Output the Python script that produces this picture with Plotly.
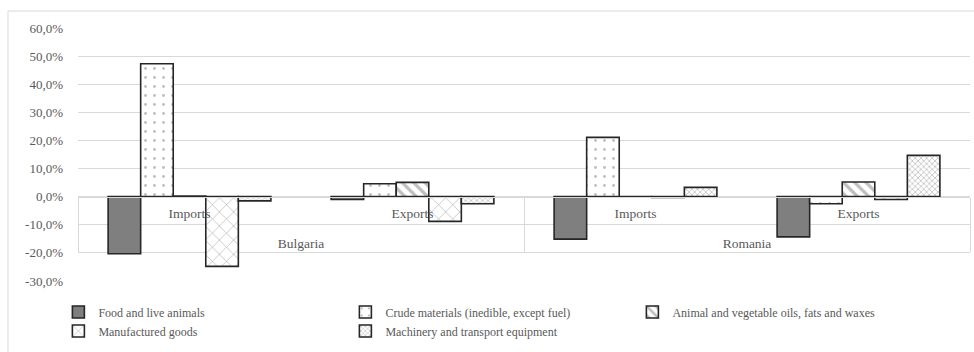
import plotly.graph_objects as go

# Change by commodity group, percent
countries = ["Bulgaria", "Bulgaria", "Romania", "Romania"]
flows = ["Imports", "Exports", "Imports", "Exports"]

food = [-20.3, -1.0, -15.1, -14.3]
crude = [47.3, 4.6, 21.1, -2.5]
oils = [0.2, 5.1, 0.0, 5.2]
manufactured = [-24.8, -8.8, -0.3, -1.0]
machinery = [-1.5, -2.5, 3.3, 14.7]

series_names = [
    "Food and live animals",
    "Crude materials (inedible, except fuel)",
    "Animal and vegetable oils, fats and waxes",
    "Manufactured goods",
    "Machinery and transport equipment",
]
y_ticks = [-30, -20, -10, 0, 10, 20, 30, 40, 50, 60]
y_labels = [f"{v:.1f}%".replace(".", ",") for v in y_ticks]

# country labels sit one line lower than the flow labels
country_axis = ["<br>" + c for c in countries]

FONT = "Liberation Serif"
GREY_TXT = "#595959"
GRID = "#d9d9d9"
OUTLINE = "#262626"

styles = [
    dict(color="#7f7f7f"),
    dict(color="white", pattern=dict(shape=".", fgcolor="#7f7f7f", bgcolor="white", size=9, solidity=0.08)),
    dict(color="white", pattern=dict(shape="\\", fgcolor="#7f7f7f", bgcolor="white", size=8, solidity=0.4)),
    dict(color="white", pattern=dict(shape="x", fgcolor="#595959", bgcolor="white", size=10, solidity=0.12)),
    dict(color="white", pattern=dict(shape="x", fgcolor="#7f7f7f", bgcolor="white", size=4, solidity=0.35)),
]

fig = go.Figure()
for name, vals, st in zip(series_names, [food, crude, oils, manufactured, machinery], styles):
    fig.add_trace(go.Bar(
        x=[country_axis, flows],
        y=vals,
        name=name,
        marker=dict(**st, line=dict(color=OUTLINE, width=1.6)),
    ))

fig.update_layout(
    width=974,
    height=352,
    margin=dict(l=78, r=4, t=28, b=71),
    paper_bgcolor="white",
    plot_bgcolor="white",
    barmode="group",
    bargap=0.27,
    bargroupgap=0,
    font=dict(family=FONT, size=13, color=GREY_TXT),
    showlegend=True,
    legend=dict(
        orientation="h",
        x=-0.022,
        y=-0.065,
        xanchor="left",
        yanchor="top",
        entrywidth=242,
        entrywidthmode="pixels",
        itemwidth=30,
        font=dict(family=FONT, size=12, color=GREY_TXT),
        tracegroupgap=0,
    ),
    xaxis=dict(
        type="multicategory",
        anchor="free",
        position=1 / 3,
        showline=True,
        linecolor=GRID,
        linewidth=1,
        showgrid=False,
        ticks="",
        showdividers=True,
        dividercolor=GRID,
        dividerwidth=1,
        ticklabelstandoff=4,
        tickfont=dict(family=FONT, size=13.5, color=GREY_TXT),
    ),
    yaxis=dict(
        range=[-30, 60],
        tickvals=y_ticks,
        ticktext=y_labels,
        showgrid=True,
        gridcolor=GRID,
        gridwidth=1,
        zeroline=True,
        zerolinecolor=GRID,
        zerolinewidth=1,
        ticks="",
        ticklabelstandoff=14,
        tickfont=dict(family=FONT, size=13, color=GREY_TXT),
    ),
    shapes=[
        dict(type="rect", xref="paper", yref="paper",
             x0=-0.0785, x1=1.0067, y0=-0.4, y1=1.067,
             line=dict(color=GRID, width=1), fillcolor="rgba(0,0,0,0)", layer="below"),
    ],
    annotations=[
        dict(text="<b><i>Changes in the structure of trade by commodity groups by country (change in pp, %, 2020/2019)</i></b>",
             xref="paper", yref="paper", x=0.47, y=1.097, xanchor="center", yanchor="bottom",
             showarrow=False, font=dict(family=FONT, size=19, color="black")),
    ],
)

fig.write_html("out.html")
